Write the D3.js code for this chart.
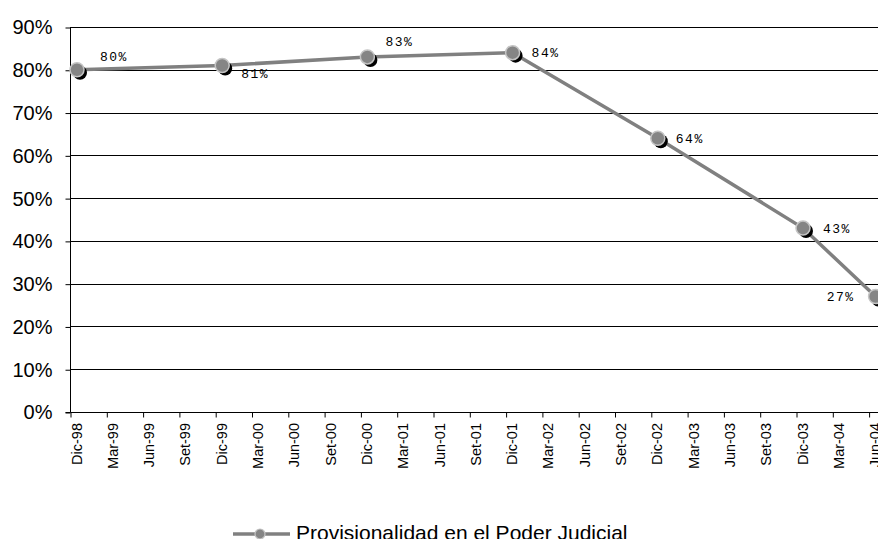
<!DOCTYPE html>
<html>
<head>
<meta charset="utf-8">
<script src="https://cdn.jsdelivr.net/npm/d3@7/dist/d3.min.js"></script>
<style>
  html, body { margin: 0; padding: 0; background: #fff; }
  svg { display: block; }
</style>
</head>
<body>
<svg id="chart" width="878" height="539"></svg>
<script>
// Quarterly categories on the x axis
const categories = ["Dic-98","Mar-99","Jun-99","Set-99","Dic-99","Mar-00","Jun-00","Set-00",
  "Dic-00","Mar-01","Jun-01","Set-01","Dic-01","Mar-02","Jun-02","Set-02",
  "Dic-02","Mar-03","Jun-03","Set-03","Dic-03","Mar-04","Jun-04"];
// Measured periods and the share of provisional judges (%)
const periods = ["Dic-98","Dic-99","Dic-00","Dic-01","Dic-02","Dic-03","Jun-04"];
const provisionalidad = [80, 81, 83, 84, 64, 43, 27];
const yTicks = [0, 10, 20, 30, 40, 50, 60, 70, 80, 90];
const seriesName = "Provisionalidad en el Poder Judicial";

// Where each value label sits relative to its point
const labelPlacement = [
  {dx: 23, dy: -13, anchor: "start"},
  {dx: 19, dy: 8, anchor: "start"},
  {dx: 18, dy: -15, anchor: "start"},
  {dx: 19, dy: 0, anchor: "start"},
  {dx: 18, dy: 0, anchor: "start"},
  {dx: 20, dy: 0, anchor: "start"},
  {dx: -21, dy: 0, anchor: "end"}
];

const svg = d3.select("#chart");
const plotLeft = 70, plotTop = 27, plotBottom = 412, plotRight = 878;

const x = d3.scalePoint().domain(categories).range([plotLeft, plotLeft + 36.3 * (categories.length - 1)]);
const y = d3.scaleLinear().domain([0, 90]).range([plotBottom, plotTop]);
const markOffset = 7;
const px = c => x(c) + markOffset;

// horizontal gridlines
svg.append("g").selectAll("line").data(yTicks.filter(t => t > 0)).join("line")
  .attr("x1", plotLeft).attr("x2", plotRight)
  .attr("y1", d => Math.round(y(d)) + 0.5).attr("y2", d => Math.round(y(d)) + 0.5)
  .attr("stroke", "#000").attr("stroke-width", 1);

// y axis
const yAxis = d3.axisLeft(y).tickValues(yTicks).tickFormat(d => d + "%").tickSize(5).tickPadding(13);
const gy = svg.append("g").attr("transform", `translate(${plotLeft + 0.5},0.5)`).call(yAxis);
gy.select(".domain").attr("stroke", "#000").attr("d", `M-5,${Math.round(y(0))}H0V${Math.round(y(90))}`);
gy.selectAll(".tick line").attr("stroke", "#000");
gy.selectAll(".tick text").attr("font-family", "Arial, 'Liberation Sans', sans-serif")
  .attr("font-size", 20).attr("fill", "#000");

// x axis
const xAxis = d3.axisBottom(x).tickSize(5).tickFormat("");
const gx = svg.append("g").attr("transform", `translate(0.5,${Math.round(plotBottom) + 0.5})`).call(xAxis);
gx.select(".domain").attr("stroke", "#000").attr("d", `M${plotLeft},0H${plotRight}`);
gx.selectAll(".tick line").attr("stroke", "#000");
svg.append("g").selectAll("text").data(categories).join("text")
  .attr("transform", d => `translate(${x(d) + 11.5},${plotBottom + 11}) rotate(-90)`)
  .attr("text-anchor", "end")
  .attr("font-family", "Arial, 'Liberation Sans', sans-serif")
  .attr("font-size", 14.5).attr("fill", "#000")
  .text(d => d);

// series line
const pts = periods.map((p, i) => ({p, v: provisionalidad[i], i}));
const line = d3.line().x(d => px(d.p)).y(d => y(d.v));
svg.append("path").datum(pts).attr("d", line)
  .attr("fill", "none").attr("stroke", "#808080").attr("stroke-width", 3.5);

// markers with a dark drop shadow
svg.append("g").selectAll("circle").data(pts).join("circle")
  .attr("cx", d => px(d.p) + 3).attr("cy", d => y(d.v) + 3).attr("r", 7).attr("fill", "#000");
svg.append("g").selectAll("circle").data(pts).join("circle")
  .attr("cx", d => px(d.p)).attr("cy", d => y(d.v)).attr("r", 7)
  .attr("fill", "#858585").attr("stroke", "#c4c4c4").attr("stroke-width", 1.5);

// value labels
svg.append("g").selectAll("text").data(pts).join("text")
  .attr("x", d => px(d.p) + labelPlacement[d.i].dx)
  .attr("y", d => y(d.v) + labelPlacement[d.i].dy)
  .attr("dy", "0.35em")
  .attr("text-anchor", d => labelPlacement[d.i].anchor)
  .attr("font-family", "'Liberation Mono', 'Courier New', monospace")
  .attr("font-size", 13).attr("letter-spacing", 1.5).attr("fill", "#000")
  .text(d => d.v + "%");

// legend
const lg = svg.append("g").attr("transform", "translate(233,534)");
lg.append("line").attr("x1", 0).attr("x2", 57).attr("y1", 0).attr("y2", 0)
  .attr("stroke", "#808080").attr("stroke-width", 3.5);
lg.append("circle").attr("cx", 27).attr("cy", 0).attr("r", 5)
  .attr("fill", "#858585").attr("stroke", "#c4c4c4").attr("stroke-width", 1.2);
lg.append("text").attr("x", 63).attr("y", 6)
  .attr("font-family", "Arial, 'Liberation Sans', sans-serif").attr("font-size", 21).attr("fill", "#000")
  .text(seriesName);
</script>
</body>
</html>
